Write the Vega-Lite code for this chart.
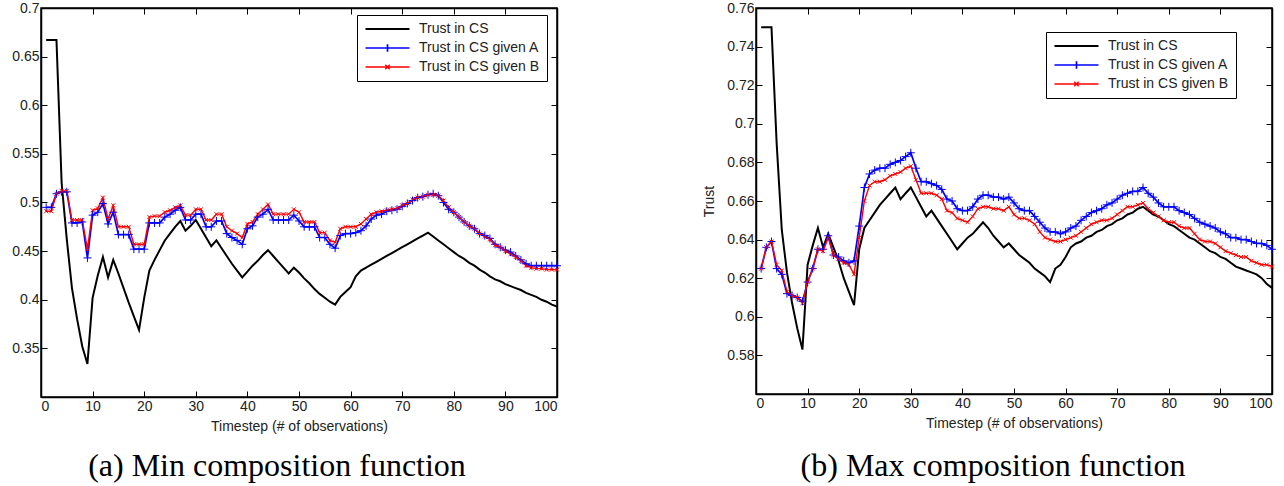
{
  "$schema": "https://vega.github.io/schema/vega-lite/v6.json",
  "padding": {"left": 11, "top": 0, "right": 5, "bottom": 0},
  "background": "white",
  "config": {
    "view": {"stroke": "black", "strokeWidth": 1.5},
    "axis": {"labelFont": "Liberation Sans", "titleFont": "Liberation Sans", "labelFontSize": 14, "titleFontSize": 14, "titleFontWeight": "normal", "labelColor": "#222222", "titleColor": "#222222", "domainColor": "black", "domainWidth": 1.5, "tickColor": "black", "grid": false, "tickSize": -6, "labelPadding": 8}
  },
  "datasets": {
    "min": [
      {"t":1,"Trust in CS":0.667,"Trust in CS given A":0.495,"Trust in CS given B":0.491},
      {"t":2,"Trust in CS":0.667,"Trust in CS given A":0.495,"Trust in CS given B":0.491},
      {"t":3,"Trust in CS":0.667,"Trust in CS given A":0.509,"Trust in CS given B":0.509},
      {"t":4,"Trust in CS":0.520,"Trust in CS given A":0.511,"Trust in CS given B":0.512},
      {"t":5,"Trust in CS":0.462,"Trust in CS given A":0.511,"Trust in CS given B":0.512},
      {"t":6,"Trust in CS":0.412,"Trust in CS given A":0.479,"Trust in CS given B":0.482},
      {"t":7,"Trust in CS":0.380,"Trust in CS given A":0.479,"Trust in CS given B":0.482},
      {"t":8,"Trust in CS":0.352,"Trust in CS given A":0.480,"Trust in CS given B":0.482},
      {"t":9,"Trust in CS":0.334,"Trust in CS given A":0.443,"Trust in CS given B":0.452},
      {"t":10,"Trust in CS":0.402,"Trust in CS given A":0.487,"Trust in CS given B":0.492},
      {"t":11,"Trust in CS":0.425,"Trust in CS given A":0.490,"Trust in CS given B":0.494},
      {"t":12,"Trust in CS":0.444,"Trust in CS given A":0.499,"Trust in CS given B":0.505},
      {"t":13,"Trust in CS":0.423,"Trust in CS given A":0.478,"Trust in CS given B":0.483},
      {"t":14,"Trust in CS":0.441,"Trust in CS given A":0.490,"Trust in CS given B":0.497},
      {"t":15,"Trust in CS":0.427,"Trust in CS given A":0.467,"Trust in CS given B":0.475},
      {"t":16,"Trust in CS":0.412,"Trust in CS given A":0.467,"Trust in CS given B":0.475},
      {"t":17,"Trust in CS":0.397,"Trust in CS given A":0.467,"Trust in CS given B":0.475},
      {"t":18,"Trust in CS":0.383,"Trust in CS given A":0.452,"Trust in CS given B":0.457},
      {"t":19,"Trust in CS":0.369,"Trust in CS given A":0.452,"Trust in CS given B":0.457},
      {"t":20,"Trust in CS":0.402,"Trust in CS given A":0.452,"Trust in CS given B":0.457},
      {"t":21,"Trust in CS":0.430,"Trust in CS given A":0.479,"Trust in CS given B":0.485},
      {"t":22,"Trust in CS":0.441,"Trust in CS given A":0.479,"Trust in CS given B":0.486},
      {"t":23,"Trust in CS":0.451,"Trust in CS given A":0.479,"Trust in CS given B":0.486},
      {"t":24,"Trust in CS":0.461,"Trust in CS given A":0.485,"Trust in CS given B":0.490},
      {"t":25,"Trust in CS":0.468,"Trust in CS given A":0.488,"Trust in CS given B":0.492},
      {"t":26,"Trust in CS":0.475,"Trust in CS given A":0.492,"Trust in CS given B":0.495},
      {"t":27,"Trust in CS":0.481,"Trust in CS given A":0.495,"Trust in CS given B":0.497},
      {"t":28,"Trust in CS":0.471,"Trust in CS given A":0.482,"Trust in CS given B":0.487},
      {"t":29,"Trust in CS":0.476,"Trust in CS given A":0.482,"Trust in CS given B":0.487},
      {"t":30,"Trust in CS":0.482,"Trust in CS given A":0.488,"Trust in CS given B":0.493},
      {"t":31,"Trust in CS":0.473,"Trust in CS given A":0.488,"Trust in CS given B":0.493},
      {"t":32,"Trust in CS":0.464,"Trust in CS given A":0.475,"Trust in CS given B":0.482},
      {"t":33,"Trust in CS":0.455,"Trust in CS given A":0.475,"Trust in CS given B":0.482},
      {"t":34,"Trust in CS":0.461,"Trust in CS given A":0.481,"Trust in CS given B":0.488},
      {"t":35,"Trust in CS":0.453,"Trust in CS given A":0.481,"Trust in CS given B":0.488},
      {"t":36,"Trust in CS":0.445,"Trust in CS given A":0.468,"Trust in CS given B":0.475},
      {"t":37,"Trust in CS":0.437,"Trust in CS given A":0.464,"Trust in CS given B":0.471},
      {"t":38,"Trust in CS":0.430,"Trust in CS given A":0.461,"Trust in CS given B":0.468},
      {"t":39,"Trust in CS":0.423,"Trust in CS given A":0.457,"Trust in CS given B":0.464},
      {"t":40,"Trust in CS":0.429,"Trust in CS given A":0.473,"Trust in CS given B":0.478},
      {"t":41,"Trust in CS":0.435,"Trust in CS given A":0.476,"Trust in CS given B":0.480},
      {"t":42,"Trust in CS":0.440,"Trust in CS given A":0.485,"Trust in CS given B":0.488},
      {"t":43,"Trust in CS":0.446,"Trust in CS given A":0.488,"Trust in CS given B":0.493},
      {"t":44,"Trust in CS":0.451,"Trust in CS given A":0.493,"Trust in CS given B":0.498},
      {"t":45,"Trust in CS":0.445,"Trust in CS given A":0.482,"Trust in CS given B":0.488},
      {"t":46,"Trust in CS":0.439,"Trust in CS given A":0.482,"Trust in CS given B":0.488},
      {"t":47,"Trust in CS":0.433,"Trust in CS given A":0.482,"Trust in CS given B":0.488},
      {"t":48,"Trust in CS":0.427,"Trust in CS given A":0.482,"Trust in CS given B":0.488},
      {"t":49,"Trust in CS":0.433,"Trust in CS given A":0.487,"Trust in CS given B":0.493},
      {"t":50,"Trust in CS":0.428,"Trust in CS given A":0.481,"Trust in CS given B":0.490},
      {"t":51,"Trust in CS":0.422,"Trust in CS given A":0.475,"Trust in CS given B":0.480},
      {"t":52,"Trust in CS":0.417,"Trust in CS given A":0.475,"Trust in CS given B":0.480},
      {"t":53,"Trust in CS":0.411,"Trust in CS given A":0.475,"Trust in CS given B":0.480},
      {"t":54,"Trust in CS":0.406,"Trust in CS given A":0.464,"Trust in CS given B":0.469},
      {"t":55,"Trust in CS":0.402,"Trust in CS given A":0.464,"Trust in CS given B":0.469},
      {"t":56,"Trust in CS":0.398,"Trust in CS given A":0.457,"Trust in CS given B":0.461},
      {"t":57,"Trust in CS":0.395,"Trust in CS given A":0.453,"Trust in CS given B":0.459},
      {"t":58,"Trust in CS":0.403,"Trust in CS given A":0.466,"Trust in CS given B":0.473},
      {"t":59,"Trust in CS":0.408,"Trust in CS given A":0.468,"Trust in CS given B":0.475},
      {"t":60,"Trust in CS":0.413,"Trust in CS given A":0.468,"Trust in CS given B":0.475},
      {"t":61,"Trust in CS":0.424,"Trust in CS given A":0.469,"Trust in CS given B":0.475},
      {"t":62,"Trust in CS":0.430,"Trust in CS given A":0.471,"Trust in CS given B":0.478},
      {"t":63,"Trust in CS":0.433,"Trust in CS given A":0.476,"Trust in CS given B":0.483},
      {"t":64,"Trust in CS":0.436,"Trust in CS given A":0.483,"Trust in CS given B":0.488},
      {"t":65,"Trust in CS":0.439,"Trust in CS given A":0.487,"Trust in CS given B":0.490},
      {"t":66,"Trust in CS":0.442,"Trust in CS given A":0.488,"Trust in CS given B":0.491},
      {"t":67,"Trust in CS":0.445,"Trust in CS given A":0.491,"Trust in CS given B":0.492},
      {"t":68,"Trust in CS":0.448,"Trust in CS given A":0.492,"Trust in CS given B":0.493},
      {"t":69,"Trust in CS":0.451,"Trust in CS given A":0.493,"Trust in CS given B":0.494},
      {"t":70,"Trust in CS":0.454,"Trust in CS given A":0.496,"Trust in CS given B":0.497},
      {"t":71,"Trust in CS":0.457,"Trust in CS given A":0.499,"Trust in CS given B":0.499},
      {"t":72,"Trust in CS":0.460,"Trust in CS given A":0.502,"Trust in CS given B":0.503},
      {"t":73,"Trust in CS":0.463,"Trust in CS given A":0.505,"Trust in CS given B":0.505},
      {"t":74,"Trust in CS":0.466,"Trust in CS given A":0.506,"Trust in CS given B":0.506},
      {"t":75,"Trust in CS":0.469,"Trust in CS given A":0.508,"Trust in CS given B":0.508},
      {"t":76,"Trust in CS":0.465,"Trust in CS given A":0.509,"Trust in CS given B":0.508},
      {"t":77,"Trust in CS":0.461,"Trust in CS given A":0.507,"Trust in CS given B":0.507},
      {"t":78,"Trust in CS":0.457,"Trust in CS given A":0.500,"Trust in CS given B":0.502},
      {"t":79,"Trust in CS":0.453,"Trust in CS given A":0.493,"Trust in CS given B":0.495},
      {"t":80,"Trust in CS":0.449,"Trust in CS given A":0.490,"Trust in CS given B":0.490},
      {"t":81,"Trust in CS":0.445,"Trust in CS given A":0.485,"Trust in CS given B":0.485},
      {"t":82,"Trust in CS":0.442,"Trust in CS given A":0.480,"Trust in CS given B":0.480},
      {"t":83,"Trust in CS":0.438,"Trust in CS given A":0.476,"Trust in CS given B":0.476},
      {"t":84,"Trust in CS":0.435,"Trust in CS given A":0.473,"Trust in CS given B":0.473},
      {"t":85,"Trust in CS":0.431,"Trust in CS given A":0.468,"Trust in CS given B":0.468},
      {"t":86,"Trust in CS":0.428,"Trust in CS given A":0.466,"Trust in CS given B":0.465},
      {"t":87,"Trust in CS":0.424,"Trust in CS given A":0.463,"Trust in CS given B":0.462},
      {"t":88,"Trust in CS":0.421,"Trust in CS given A":0.457,"Trust in CS given B":0.456},
      {"t":89,"Trust in CS":0.419,"Trust in CS given A":0.454,"Trust in CS given B":0.454},
      {"t":90,"Trust in CS":0.416,"Trust in CS given A":0.451,"Trust in CS given B":0.450},
      {"t":91,"Trust in CS":0.414,"Trust in CS given A":0.449,"Trust in CS given B":0.447},
      {"t":92,"Trust in CS":0.412,"Trust in CS given A":0.445,"Trust in CS given B":0.444},
      {"t":93,"Trust in CS":0.410,"Trust in CS given A":0.441,"Trust in CS given B":0.440},
      {"t":94,"Trust in CS":0.407,"Trust in CS given A":0.437,"Trust in CS given B":0.435},
      {"t":95,"Trust in CS":0.405,"Trust in CS given A":0.435,"Trust in CS given B":0.433},
      {"t":96,"Trust in CS":0.403,"Trust in CS given A":0.435,"Trust in CS given B":0.432},
      {"t":97,"Trust in CS":0.400,"Trust in CS given A":0.435,"Trust in CS given B":0.432},
      {"t":98,"Trust in CS":0.398,"Trust in CS given A":0.435,"Trust in CS given B":0.431},
      {"t":99,"Trust in CS":0.395,"Trust in CS given A":0.435,"Trust in CS given B":0.431},
      {"t":100,"Trust in CS":0.393,"Trust in CS given A":0.435,"Trust in CS given B":0.431}
    ],
    "max": [
      {"t":1,"Trust in CS":0.750,"Trust in CS given A":0.625,"Trust in CS given B":0.625},
      {"t":2,"Trust in CS":0.750,"Trust in CS given A":0.636,"Trust in CS given B":0.636},
      {"t":3,"Trust in CS":0.750,"Trust in CS given A":0.639,"Trust in CS given B":0.639},
      {"t":4,"Trust in CS":0.690,"Trust in CS given A":0.625,"Trust in CS given B":0.627},
      {"t":5,"Trust in CS":0.645,"Trust in CS given A":0.622,"Trust in CS given B":0.624},
      {"t":6,"Trust in CS":0.623,"Trust in CS given A":0.612,"Trust in CS given B":0.613},
      {"t":7,"Trust in CS":0.607,"Trust in CS given A":0.611,"Trust in CS given B":0.611},
      {"t":8,"Trust in CS":0.594,"Trust in CS given A":0.610,"Trust in CS given B":0.610},
      {"t":9,"Trust in CS":0.583,"Trust in CS given A":0.608,"Trust in CS given B":0.607},
      {"t":10,"Trust in CS":0.627,"Trust in CS given A":0.618,"Trust in CS given B":0.618},
      {"t":11,"Trust in CS":0.637,"Trust in CS given A":0.625,"Trust in CS given B":0.625},
      {"t":12,"Trust in CS":0.646,"Trust in CS given A":0.635,"Trust in CS given B":0.635},
      {"t":13,"Trust in CS":0.636,"Trust in CS given A":0.635,"Trust in CS given B":0.634},
      {"t":14,"Trust in CS":0.643,"Trust in CS given A":0.642,"Trust in CS given B":0.641},
      {"t":15,"Trust in CS":0.636,"Trust in CS given A":0.632,"Trust in CS given B":0.632},
      {"t":16,"Trust in CS":0.629,"Trust in CS given A":0.631,"Trust in CS given B":0.630},
      {"t":17,"Trust in CS":0.620,"Trust in CS given A":0.629,"Trust in CS given B":0.628},
      {"t":18,"Trust in CS":0.613,"Trust in CS given A":0.628,"Trust in CS given B":0.627},
      {"t":19,"Trust in CS":0.606,"Trust in CS given A":0.629,"Trust in CS given B":0.622},
      {"t":20,"Trust in CS":0.635,"Trust in CS given A":0.647,"Trust in CS given B":0.641},
      {"t":21,"Trust in CS":0.646,"Trust in CS given A":0.667,"Trust in CS given B":0.660},
      {"t":22,"Trust in CS":0.650,"Trust in CS given A":0.674,"Trust in CS given B":0.668},
      {"t":23,"Trust in CS":0.654,"Trust in CS given A":0.676,"Trust in CS given B":0.670},
      {"t":24,"Trust in CS":0.658,"Trust in CS given A":0.677,"Trust in CS given B":0.670},
      {"t":25,"Trust in CS":0.661,"Trust in CS given A":0.677,"Trust in CS given B":0.671},
      {"t":26,"Trust in CS":0.664,"Trust in CS given A":0.679,"Trust in CS given B":0.673},
      {"t":27,"Trust in CS":0.667,"Trust in CS given A":0.680,"Trust in CS given B":0.674},
      {"t":28,"Trust in CS":0.661,"Trust in CS given A":0.681,"Trust in CS given B":0.675},
      {"t":29,"Trust in CS":0.664,"Trust in CS given A":0.683,"Trust in CS given B":0.677},
      {"t":30,"Trust in CS":0.667,"Trust in CS given A":0.685,"Trust in CS given B":0.678},
      {"t":31,"Trust in CS":0.662,"Trust in CS given A":0.677,"Trust in CS given B":0.671},
      {"t":32,"Trust in CS":0.657,"Trust in CS given A":0.670,"Trust in CS given B":0.664},
      {"t":33,"Trust in CS":0.652,"Trust in CS given A":0.670,"Trust in CS given B":0.664},
      {"t":34,"Trust in CS":0.655,"Trust in CS given A":0.669,"Trust in CS given B":0.664},
      {"t":35,"Trust in CS":0.651,"Trust in CS given A":0.668,"Trust in CS given B":0.663},
      {"t":36,"Trust in CS":0.647,"Trust in CS given A":0.666,"Trust in CS given B":0.661},
      {"t":37,"Trust in CS":0.643,"Trust in CS given A":0.661,"Trust in CS given B":0.655},
      {"t":38,"Trust in CS":0.639,"Trust in CS given A":0.660,"Trust in CS given B":0.654},
      {"t":39,"Trust in CS":0.635,"Trust in CS given A":0.656,"Trust in CS given B":0.651},
      {"t":40,"Trust in CS":0.638,"Trust in CS given A":0.655,"Trust in CS given B":0.650},
      {"t":41,"Trust in CS":0.641,"Trust in CS given A":0.655,"Trust in CS given B":0.649},
      {"t":42,"Trust in CS":0.643,"Trust in CS given A":0.657,"Trust in CS given B":0.652},
      {"t":43,"Trust in CS":0.646,"Trust in CS given A":0.661,"Trust in CS given B":0.656},
      {"t":44,"Trust in CS":0.649,"Trust in CS given A":0.663,"Trust in CS given B":0.657},
      {"t":45,"Trust in CS":0.646,"Trust in CS given A":0.663,"Trust in CS given B":0.657},
      {"t":46,"Trust in CS":0.642,"Trust in CS given A":0.662,"Trust in CS given B":0.656},
      {"t":47,"Trust in CS":0.639,"Trust in CS given A":0.662,"Trust in CS given B":0.656},
      {"t":48,"Trust in CS":0.636,"Trust in CS given A":0.661,"Trust in CS given B":0.655},
      {"t":49,"Trust in CS":0.638,"Trust in CS given A":0.662,"Trust in CS given B":0.657},
      {"t":50,"Trust in CS":0.635,"Trust in CS given A":0.659,"Trust in CS given B":0.653},
      {"t":51,"Trust in CS":0.632,"Trust in CS given A":0.656,"Trust in CS given B":0.651},
      {"t":52,"Trust in CS":0.630,"Trust in CS given A":0.655,"Trust in CS given B":0.651},
      {"t":53,"Trust in CS":0.628,"Trust in CS given A":0.655,"Trust in CS given B":0.650},
      {"t":54,"Trust in CS":0.625,"Trust in CS given A":0.652,"Trust in CS given B":0.648},
      {"t":55,"Trust in CS":0.623,"Trust in CS given A":0.649,"Trust in CS given B":0.644},
      {"t":56,"Trust in CS":0.621,"Trust in CS given A":0.646,"Trust in CS given B":0.641},
      {"t":57,"Trust in CS":0.618,"Trust in CS given A":0.644,"Trust in CS given B":0.640},
      {"t":58,"Trust in CS":0.625,"Trust in CS given A":0.644,"Trust in CS given B":0.639},
      {"t":59,"Trust in CS":0.627,"Trust in CS given A":0.643,"Trust in CS given B":0.639},
      {"t":60,"Trust in CS":0.631,"Trust in CS given A":0.644,"Trust in CS given B":0.640},
      {"t":61,"Trust in CS":0.636,"Trust in CS given A":0.646,"Trust in CS given B":0.641},
      {"t":62,"Trust in CS":0.638,"Trust in CS given A":0.647,"Trust in CS given B":0.642},
      {"t":63,"Trust in CS":0.639,"Trust in CS given A":0.650,"Trust in CS given B":0.644},
      {"t":64,"Trust in CS":0.641,"Trust in CS given A":0.652,"Trust in CS given B":0.646},
      {"t":65,"Trust in CS":0.642,"Trust in CS given A":0.654,"Trust in CS given B":0.648},
      {"t":66,"Trust in CS":0.644,"Trust in CS given A":0.655,"Trust in CS given B":0.649},
      {"t":67,"Trust in CS":0.645,"Trust in CS given A":0.656,"Trust in CS given B":0.650},
      {"t":68,"Trust in CS":0.647,"Trust in CS given A":0.658,"Trust in CS given B":0.650},
      {"t":69,"Trust in CS":0.648,"Trust in CS given A":0.659,"Trust in CS given B":0.651},
      {"t":70,"Trust in CS":0.650,"Trust in CS given A":0.661,"Trust in CS given B":0.653},
      {"t":71,"Trust in CS":0.651,"Trust in CS given A":0.663,"Trust in CS given B":0.655},
      {"t":72,"Trust in CS":0.653,"Trust in CS given A":0.664,"Trust in CS given B":0.657},
      {"t":73,"Trust in CS":0.654,"Trust in CS given A":0.665,"Trust in CS given B":0.657},
      {"t":74,"Trust in CS":0.656,"Trust in CS given A":0.665,"Trust in CS given B":0.658},
      {"t":75,"Trust in CS":0.657,"Trust in CS given A":0.667,"Trust in CS given B":0.659},
      {"t":76,"Trust in CS":0.655,"Trust in CS given A":0.664,"Trust in CS given B":0.656},
      {"t":77,"Trust in CS":0.653,"Trust in CS given A":0.662,"Trust in CS given B":0.654},
      {"t":78,"Trust in CS":0.652,"Trust in CS given A":0.659,"Trust in CS given B":0.652},
      {"t":79,"Trust in CS":0.650,"Trust in CS given A":0.657,"Trust in CS given B":0.650},
      {"t":80,"Trust in CS":0.648,"Trust in CS given A":0.657,"Trust in CS given B":0.649},
      {"t":81,"Trust in CS":0.647,"Trust in CS given A":0.657,"Trust in CS given B":0.649},
      {"t":82,"Trust in CS":0.645,"Trust in CS given A":0.655,"Trust in CS given B":0.647},
      {"t":83,"Trust in CS":0.643,"Trust in CS given A":0.654,"Trust in CS given B":0.646},
      {"t":84,"Trust in CS":0.641,"Trust in CS given A":0.653,"Trust in CS given B":0.646},
      {"t":85,"Trust in CS":0.640,"Trust in CS given A":0.651,"Trust in CS given B":0.643},
      {"t":86,"Trust in CS":0.638,"Trust in CS given A":0.649,"Trust in CS given B":0.640},
      {"t":87,"Trust in CS":0.636,"Trust in CS given A":0.648,"Trust in CS given B":0.639},
      {"t":88,"Trust in CS":0.634,"Trust in CS given A":0.647,"Trust in CS given B":0.639},
      {"t":89,"Trust in CS":0.633,"Trust in CS given A":0.646,"Trust in CS given B":0.638},
      {"t":90,"Trust in CS":0.631,"Trust in CS given A":0.644,"Trust in CS given B":0.636},
      {"t":91,"Trust in CS":0.630,"Trust in CS given A":0.643,"Trust in CS given B":0.634},
      {"t":92,"Trust in CS":0.628,"Trust in CS given A":0.641,"Trust in CS given B":0.633},
      {"t":93,"Trust in CS":0.626,"Trust in CS given A":0.641,"Trust in CS given B":0.632},
      {"t":94,"Trust in CS":0.625,"Trust in CS given A":0.640,"Trust in CS given B":0.631},
      {"t":95,"Trust in CS":0.624,"Trust in CS given A":0.640,"Trust in CS given B":0.631},
      {"t":96,"Trust in CS":0.623,"Trust in CS given A":0.639,"Trust in CS given B":0.629},
      {"t":97,"Trust in CS":0.622,"Trust in CS given A":0.638,"Trust in CS given B":0.628},
      {"t":98,"Trust in CS":0.620,"Trust in CS given A":0.638,"Trust in CS given B":0.627},
      {"t":99,"Trust in CS":0.617,"Trust in CS given A":0.637,"Trust in CS given B":0.627},
      {"t":100,"Trust in CS":0.615,"Trust in CS given A":0.635,"Trust in CS given B":0.626}
    ]
  },
  "spacing": 138,
  "resolve": {"scale": {"color": "independent", "strokeWidth": "independent"}, "legend": {"color": "independent"}},
  "hconcat": [
    {
      "width": 516,
      "height": 389,
      "data": {"name": "min"},
      "transform": [{"fold": ["Trust in CS", "Trust in CS given A", "Trust in CS given B"], "as": ["series", "trust"]}],
      "title": {"text": "(a) Min composition function", "orient": "bottom", "frame": "group", "anchor": "middle", "dx": -22, "font": "Liberation Serif", "fontSize": 32, "fontWeight": "normal", "color": "black", "offset": 18},
      "resolve": {"axis": {"x": "independent", "y": "independent"}},
      "layer": [
        {
          "mark": {"type": "line"},
          "encoding": {
            "x": {"field": "t", "type": "quantitative", "scale": {"domain": [0, 100], "nice": false}, "axis": {"orient": "bottom", "values": [0,10,20,30,40,50,60,70,80,90,100], "title": "Timestep (# of observations)", "titlePadding": 6}},
            "y": {"field": "trust", "type": "quantitative", "scale": {"domain": [0.3, 0.7], "nice": false, "zero": false}, "axis": {"orient": "left", "values": [0.35,0.4,0.45,0.5,0.55,0.6,0.65,0.7], "labelExpr": "format(datum.value, '~g')", "title": null}},
            "color": {"field": "series", "type": "nominal", "scale": {"domain": ["Trust in CS", "Trust in CS given A", "Trust in CS given B"], "range": ["#000000", "#0000ff", "#ff0000"]},
              "legend": {"orient": "none", "legendX": 316, "legendY": 7, "title": null, "strokeColor": "black", "fillColor": "white", "padding": 7, "symbolSize": 121, "symbolStrokeWidth": 1.5, "symbolFillColor": "transparent", "symbolType": "M-1,0L7,0", "labelOffset": 41, "labelFont": "Liberation Sans", "labelFontSize": 14, "labelColor": "#222222", "rowPadding": 4,
                "encode": {"symbols": {"update": {"shape": {"signal": "datum.label === 'Trust in CS given A' ? 'M-1,0L7,0M3,-0.7L3,0.7' : datum.label === 'Trust in CS given B' ? 'M-1,0L7,0M2.6,-0.4L3.4,0.4M2.6,0.4L3.4,-0.4' : 'M-1,0L7,0'"}}}}}},
            "strokeWidth": {"field": "series", "type": "nominal", "scale": {"domain": ["Trust in CS", "Trust in CS given A", "Trust in CS given B"], "range": [2, 1.4, 1.4]}, "legend": null}
          }
        },
        {
          "transform": [{"filter": "datum.series === 'Trust in CS given A'"}],
          "mark": {"type": "point", "shape": "M-1,0L1,0M0,-1L0,1", "filled": false, "size": 64, "color": "#0000ff", "strokeWidth": 1, "opacity": 1},
          "encoding": {
            "x": {"field": "t", "type": "quantitative", "axis": {"orient": "top", "values": [0,10,20,30,40,50,60,70,80,90,100], "labels": false, "title": null}},
            "y": {"field": "trust", "type": "quantitative", "axis": {"orient": "right", "values": [0.35,0.4,0.45,0.5,0.55,0.6,0.65,0.7], "labels": false, "title": null}}
          }
        },
        {
          "transform": [{"filter": "datum.series === 'Trust in CS given B'"}],
          "mark": {"type": "point", "shape": "M-1,-1L1,1M-1,1L1,-1", "filled": false, "size": 16, "color": "#ff0000", "strokeWidth": 1, "opacity": 1},
          "encoding": {
            "x": {"field": "t", "type": "quantitative", "axis": null},
            "y": {"field": "trust", "type": "quantitative", "axis": null}
          }
        }
      ]
    },
    {
      "width": 516,
      "height": 386,
      "data": {"name": "max"},
      "transform": [{"fold": ["Trust in CS", "Trust in CS given A", "Trust in CS given B"], "as": ["series", "trust"]}],
      "title": {"text": "(b) Max composition function", "orient": "bottom", "frame": "group", "anchor": "middle", "dx": -21, "font": "Liberation Serif", "fontSize": 32, "fontWeight": "normal", "color": "black", "offset": 21},
      "resolve": {"axis": {"x": "independent", "y": "independent"}},
      "layer": [
        {
          "mark": {"type": "line"},
          "encoding": {
            "x": {"field": "t", "type": "quantitative", "scale": {"domain": [0, 100], "nice": false}, "axis": {"orient": "bottom", "values": [0,10,20,30,40,50,60,70,80,90,100], "title": "Timestep (# of observations)", "titlePadding": 6}},
            "y": {"field": "trust", "type": "quantitative", "scale": {"domain": [0.56, 0.76], "nice": false, "zero": false}, "axis": {"orient": "left", "values": [0.58,0.6,0.62,0.64,0.66,0.68,0.7,0.72,0.74,0.76], "labelExpr": "format(datum.value, '~g')", "title": "Trust", "titlePadding": 10}},
            "color": {"field": "series", "type": "nominal", "scale": {"domain": ["Trust in CS", "Trust in CS given A", "Trust in CS given B"], "range": ["#000000", "#0000ff", "#ff0000"]},
              "legend": {"orient": "none", "legendX": 290, "legendY": 24, "title": null, "strokeColor": "black", "fillColor": "white", "padding": 7, "symbolSize": 121, "symbolStrokeWidth": 1.5, "symbolFillColor": "transparent", "symbolType": "M-1,0L7,0", "labelOffset": 41, "labelFont": "Liberation Sans", "labelFontSize": 14, "labelColor": "#222222", "rowPadding": 4,
                "encode": {"symbols": {"update": {"shape": {"signal": "datum.label === 'Trust in CS given A' ? 'M-1,0L7,0M3,-0.7L3,0.7' : datum.label === 'Trust in CS given B' ? 'M-1,0L7,0M2.6,-0.4L3.4,0.4M2.6,0.4L3.4,-0.4' : 'M-1,0L7,0'"}}}}}},
            "strokeWidth": {"field": "series", "type": "nominal", "scale": {"domain": ["Trust in CS", "Trust in CS given A", "Trust in CS given B"], "range": [2, 1.4, 1.4]}, "legend": null}
          }
        },
        {
          "transform": [{"filter": "datum.series === 'Trust in CS given A'"}],
          "mark": {"type": "point", "shape": "M-1,0L1,0M0,-1L0,1", "filled": false, "size": 64, "color": "#0000ff", "strokeWidth": 1, "opacity": 1},
          "encoding": {
            "x": {"field": "t", "type": "quantitative", "axis": {"orient": "top", "values": [0,10,20,30,40,50,60,70,80,90,100], "labels": false, "title": null}},
            "y": {"field": "trust", "type": "quantitative", "axis": {"orient": "right", "values": [0.58,0.6,0.62,0.64,0.66,0.68,0.7,0.72,0.74,0.76], "labels": false, "title": null}}
          }
        },
        {
          "transform": [{"filter": "datum.series === 'Trust in CS given B'"}],
          "mark": {"type": "point", "shape": "M-1,-1L1,1M-1,1L1,-1", "filled": false, "size": 16, "color": "#ff0000", "strokeWidth": 1, "opacity": 1},
          "encoding": {
            "x": {"field": "t", "type": "quantitative", "axis": null},
            "y": {"field": "trust", "type": "quantitative", "axis": null}
          }
        }
      ]
    }
  ]
}
